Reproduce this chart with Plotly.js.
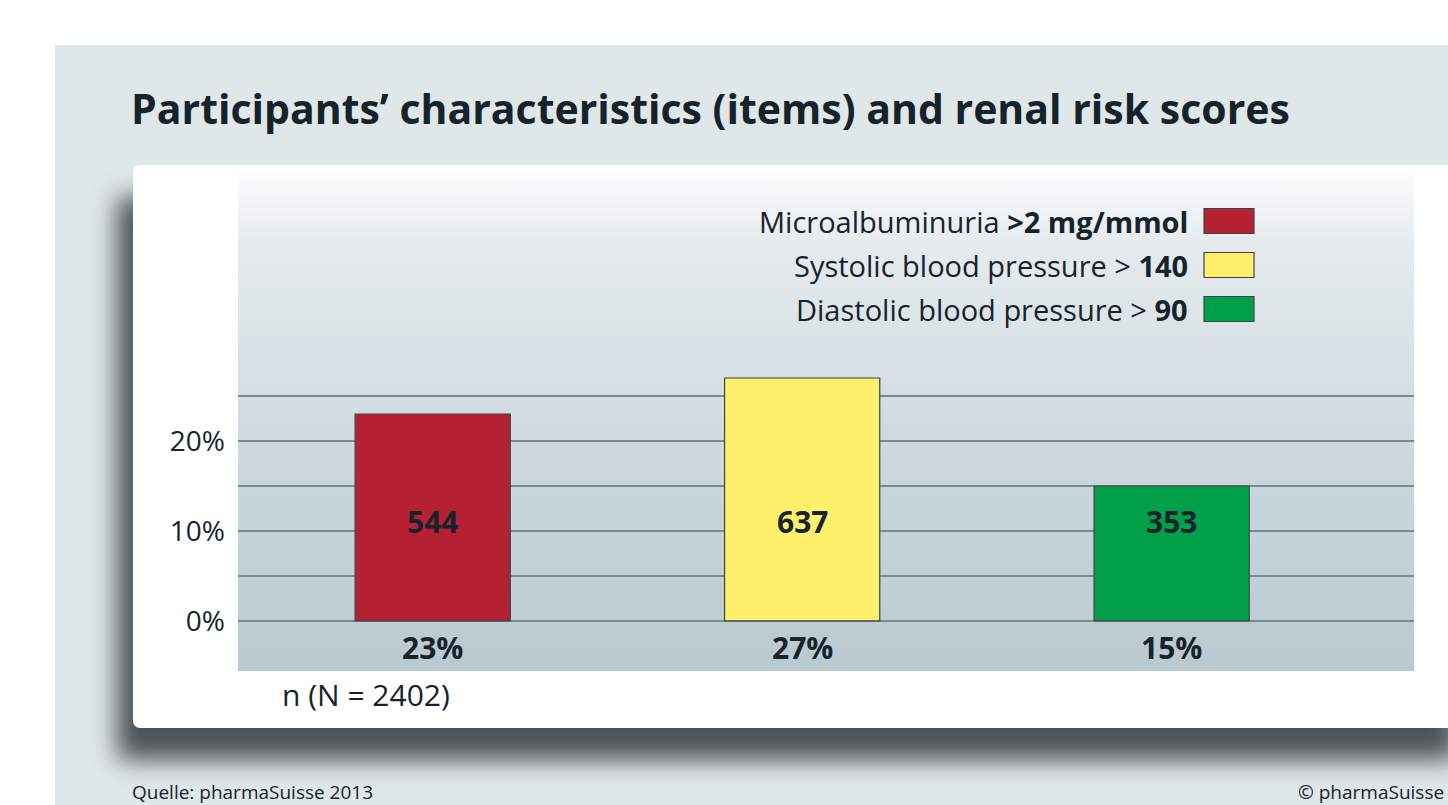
<!DOCTYPE html>
<html>
<head>
<meta charset="utf-8">
<script src="https://cdn.plot.ly/plotly-3.0.1.min.js"></script>
<style>
  html, body { margin:0; padding:0; background:#ffffff; width:1448px; height:805px; overflow:hidden; }
  #panel { position:absolute; left:55px; top:45px; width:1393px; height:760px; background:#e0e7e9; }
  #card { position:absolute; left:133px; top:165px; width:1340px; height:563px; background:#ffffff;
          border-radius:7px 0 0 7px; box-shadow:-16px 32px 24px rgba(45,50,55,0.82); }
  #plotbg { position:absolute; left:238px; top:165px; width:1176px; height:506px;
            background:linear-gradient(to bottom, #ffffff 0%, #e6ebee 15%, #d4dee3 45%, #c6d3da 70%, #bac9d1 100%); }
  #chart { position:absolute; left:0; top:0; width:1448px; height:805px; }
</style>
</head>
<body>
<div id="panel"></div>
<div id="card"></div>
<div id="plotbg"></div>
<div id="chart"></div>
<script>
// ---- data ----
const categories = ["Microalbuminuria", "Systolic", "Diastolic"];
const legendLabels = [
  "Microalbuminuria <b>>2 mg/mmol</b>",
  "Systolic blood pressure > <b>140</b>",
  "Diastolic blood pressure > <b>90</b>"
];
const percentValues = [23, 27, 15];
const counts = [544, 637, 353];
const percentLabels = ["23%", "27%", "15%"];
const yTickVals = [0, 5, 10, 15, 20, 25];
const yTickText = ["0%", "", "10%", "", "20%", ""];
const totalLabel = "n (N = 2402)";
const titleText = "Participants’ characteristics (items) and renal risk scores";
const sourceText = "Quelle: pharmaSuisse 2013";
const copyrightText = "© pharmaSuisse";

// ---- styles ----
const barColors = ["#b52033", "#fef06a", "#00a04b"];
const W = 1448, H = 805;
const L = 238, R = 1414, T = 165, B = 671;
const FONT = "Open Sans, Noto Sans, sans-serif";
const TXT = "#17232b";
const px = x => (x - L) / (R - L);
const py = y => (B - y) / (B - T);

const annotations = [];
const shapes = [];

// count labels inside bars and percent labels below
categories.forEach((c, i) => {
  annotations.push({x: c, y: 11, xref: "x", yref: "y", text: "<b>" + counts[i] + "</b>",
    showarrow: false, font: {family: FONT, size: 30, color: TXT}});
  annotations.push({x: c, y: -3, xref: "x", yref: "y", text: "<b>" + percentLabels[i] + "</b>",
    showarrow: false, font: {family: FONT, size: 30, color: TXT}});
});

// legend (text right-aligned, swatch on the right)
const legY = [221, 265, 309];
legendLabels.forEach((lab, i) => {
  annotations.push({x: px(1190), y: py(legY[i]), xref: "paper", yref: "paper", xanchor: "right", yanchor: "middle",
    text: lab, showarrow: false, font: {family: FONT, size: 29, color: TXT}});
  shapes.push({type: "rect", xref: "paper", yref: "paper", x0: px(1204), x1: px(1254),
    y0: py(legY[i] - 12.5), y1: py(legY[i] + 12.5), fillcolor: barColors[i],
    line: {color: "#3c4549", width: 1.2}});
});

annotations.push({x: px(366), y: py(694), xref: "paper", yref: "paper", text: totalLabel, showarrow: false,
  xanchor: "center", yanchor: "middle", font: {family: FONT, size: 30, color: TXT}});
annotations.push({x: px(130), y: py(792), xref: "paper", yref: "paper", text: sourceText, showarrow: false,
  xanchor: "left", yanchor: "middle", font: {family: FONT, size: 19, color: TXT}});
annotations.push({x: px(1446), y: py(792), xref: "paper", yref: "paper", text: copyrightText, showarrow: false,
  xanchor: "right", yanchor: "middle", font: {family: FONT, size: 19, color: TXT}});

const trace = {
  type: "bar",
  x: categories,
  y: percentValues,
  width: 0.42,
  marker: {color: barColors, line: {color: "#3c4549", width: 1.2}},
  hoverinfo: "skip",
  showlegend: false
};

const layout = {
  width: W, height: H,
  margin: {l: L, r: W - R, t: T, b: H - B, pad: 0},
  paper_bgcolor: "rgba(0,0,0,0)",
  plot_bgcolor: "rgba(0,0,0,0)",
  title: {text: "<b>" + titleText + "</b>", xref: "container", yref: "container",
    x: 131 / W, xanchor: "left", y: 1 - 110 / H, yanchor: "middle",
    font: {family: FONT, size: 41, color: TXT}},
  xaxis: {type: "category", range: [-0.527, 2.656], showticklabels: false, showgrid: false,
    zeroline: false, showline: false, ticks: "", fixedrange: true},
  yaxis: {range: [-5.56, 50.67], tickvals: yTickVals, ticktext: yTickText, showgrid: true,
    gridcolor: "#7a8990", gridwidth: 1.5, zeroline: false, showline: false, ticks: "",
    ticklabelstandoff: 12, tickfont: {family: FONT, size: 28, color: TXT}, fixedrange: true},
  annotations: annotations,
  shapes: shapes,
  showlegend: false,
  bargap: 0
};

Plotly.newPlot("chart", [trace], layout, {displayModeBar: false, staticPlot: true});
</script>
</body>
</html>
